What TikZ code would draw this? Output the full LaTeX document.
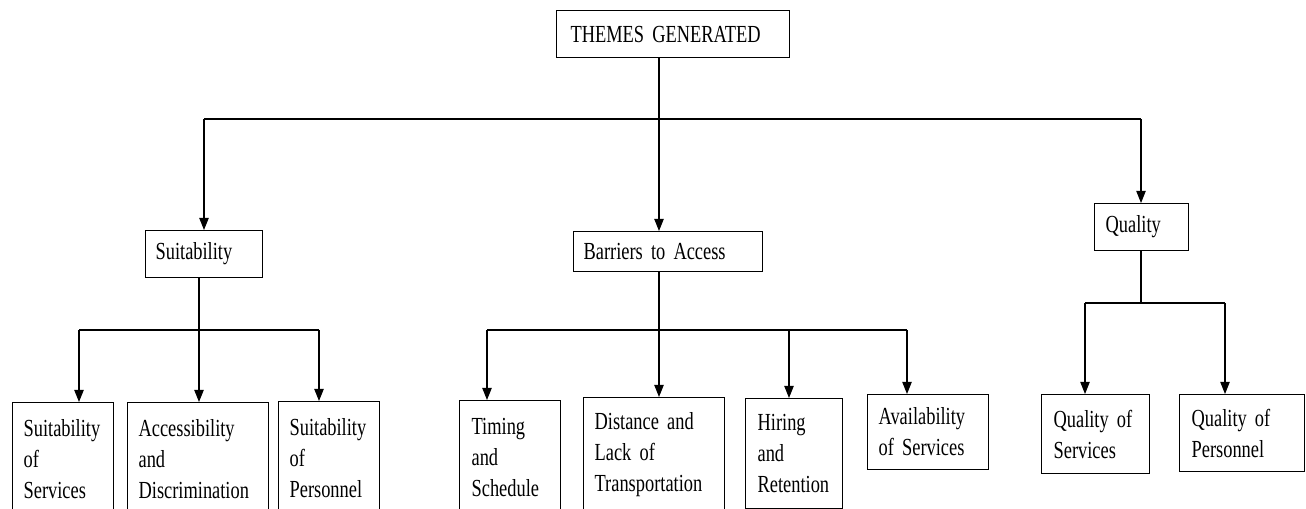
\documentclass[tikz,border=0pt]{standalone}
\usepackage{fontspec}
\setmainfont{Liberation Serif}
\newfontfamily\tnrfont[FakeStretch=0.75]{Liberation Serif}
\newcommand{\boxfont}{\tnrfont\fontsize{18.4}{23.25}\selectfont\spaceskip=0.19em plus 0.05em minus 0.03em\relax}
\usetikzlibrary{arrows.meta}
\begin{document}
\begin{tikzpicture}[x=0.75pt,y=-0.75pt,
  box/.style={draw, line width=0.9pt, anchor=north west, align=left, inner ysep=0pt,
    font=\boxfont},
  ln/.style={line width=0.8pt},
  arr/.style={line width=0.8pt, -{Triangle[length=9pt,width=7pt]}}]
\useasboundingbox (0,0) rectangle (1306,509);
% top level
\node[box, inner xsep=10.5pt, text width=153.75pt, minimum height=35.25pt] (root) at (556,10) {THEMES GENERATED};
\node[box, inner xsep=7.5pt, text width=72.75pt, minimum height=35.25pt] (suit) at (145,230) {Suitability};
\node[box, inner xsep=7.5pt, text width=126.75pt, minimum height=30pt] (bar) at (573,231) {Barriers to Access};
\node[box, inner xsep=8.25pt, text width=54pt, minimum height=35.25pt] (qual) at (1094,203) {Quality};
% suitability children
\node[box, inner xsep=8.25pt, text width=59.25pt, minimum height=84.75pt] (s1) at (12,402) {Suitability\\of\\Services};
\node[box, inner xsep=8.25pt, text width=89.25pt, minimum height=84.75pt] (s2) at (127,402) {Accessibility\\and\\Discrimination};
\node[box, inner xsep=8.25pt, text width=59.25pt, minimum height=84.75pt] (s3) at (278,401) {Suitability\\of\\Personnel};
% barriers children
\node[box, inner xsep=9pt, text width=57.75pt, minimum height=84.75pt] (b1) at (459,400) {Timing\\and\\Schedule};
\node[box, inner xsep=8.25pt, text width=89.25pt, minimum height=84.75pt] (b2) at (583,397) {Distance and\\Lack of\\Transportation};
\node[box, inner xsep=9pt, text width=54.75pt, minimum height=82.5pt] (b3) at (745,398) {Hiring\\and\\Retention};
\node[box, inner xsep=8.25pt, text width=74.25pt, minimum height=56.25pt] (b4) at (867,394) {Availability\\of Services};
% quality children
\node[box, inner xsep=9pt, text width=63pt, minimum height=59.25pt] (q1) at (1041,394) {Quality of\\Services};
\node[box, inner xsep=9pt, text width=75.75pt, minimum height=57.75pt] (q2) at (1179,394) {Quality of\\Personnel};
% connector coordinates
\coordinate (rt) at (659,0);
\coordinate (hl) at (204,119);
\coordinate (hr) at (1141,119);
\coordinate (sj) at (199,330);
\coordinate (sl) at (79,330);
\coordinate (sr) at (319,330);
\coordinate (bj) at (659,330);
\coordinate (bl) at (487,330);
\coordinate (bm) at (789,330);
\coordinate (br) at (907,330);
\coordinate (qj) at (1141,303);
\coordinate (ql) at (1085,303);
\coordinate (qr) at (1225,303);
% top connectors
\draw[arr] (root.south -| rt) -- (bar.north -| rt);
\draw[ln] (hl) -- (hr);
\draw[arr] (hl) -- (suit.north -| hl);
\draw[arr] (hr) -- (qual.north -| hr);
% suitability
\draw[ln] (suit.south -| sj) -- (sj);
\draw[ln] (sl) -- (sr);
\draw[arr] (sl) -- (s1.north -| sl);
\draw[arr] (sj) -- (s2.north -| sj);
\draw[arr] (sr) -- (s3.north -| sr);
% barriers
\draw[ln] (bar.south -| bj) -- (bj);
\draw[ln] (bl) -- (br);
\draw[arr] (bl) -- (b1.north -| bl);
\draw[arr] (bj) -- (b2.north -| bj);
\draw[arr] (bm) -- (b3.north -| bm);
\draw[arr] (br) -- (b4.north -| br);
% quality
\draw[ln] (qual.south -| qj) -- (qj);
\draw[ln] (ql) -- (qr);
\draw[arr] (ql) -- (q1.north -| ql);
\draw[arr] (qr) -- (q2.north -| qr);
\end{tikzpicture}
\end{document}
